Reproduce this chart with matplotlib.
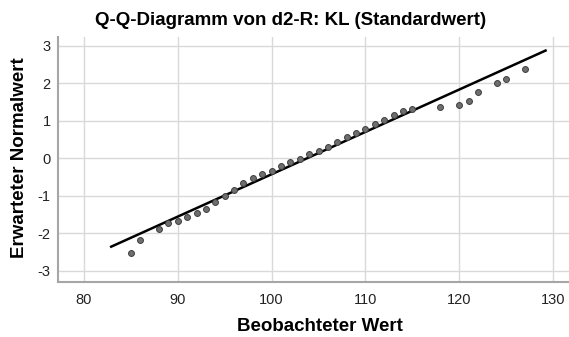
import numpy as np
import matplotlib
matplotlib.use("Agg")
import matplotlib.pyplot as plt

plt.rcParams['font.family'] = ['Liberation Sans', 'DejaVu Sans']
plt.rcParams['axes.unicode_minus'] = False

beobachtet = [85, 86, 88, 89, 90, 91, 92, 93, 94, 95, 96, 97, 98, 99, 100,
              101, 102, 103, 104, 105, 106, 107, 108, 109, 110, 111, 112,
              113, 114, 115, 118, 120, 121, 122, 124, 125, 127]
erwartet = [-2.52, -2.17, -1.89, -1.73, -1.67, -1.57, -1.45, -1.35, -1.18,
            -1.01, -0.85, -0.67, -0.52, -0.43, -0.33, -0.21, -0.11, -0.01,
            0.11, 0.20, 0.31, 0.43, 0.57, 0.67, 0.79, 0.90, 1.01, 1.16,
            1.26, 1.31, 1.36, 1.41, 1.52, 1.76, 2.01, 2.12, 2.39]

# Referenzlinie (Endpunkte)
linie_x = [82.9, 129.2]
linie_y = [-2.36, 2.87]

x_ticks = [80, 90, 100, 110, 120, 130]
y_ticks = [-3, -2, -1, 0, 1, 2, 3]

fig = plt.figure(figsize=(5.69, 3.37), dpi=100)
ax = fig.add_axes([0.1014, 0.1623, 0.8986, 0.7288])

ax.grid(True, color='#d9d9d9', linewidth=1.0, zorder=0)
ax.set_axisbelow(True)

ax.plot(linie_x, linie_y, color='black', linewidth=1.8, zorder=2)
ax.scatter(beobachtet, erwartet, s=18, facecolor='#6e6e6e',
           edgecolor='#3c3c3c', linewidth=0.7, zorder=3)

ax.set_xlim(77.2, 131.7)
ax.set_ylim(-3.31, 3.24)
ax.set_xticks(x_ticks)
ax.set_yticks(y_ticks)

for s in ['top', 'right']:
    ax.spines[s].set_visible(False)
for s in ['left', 'bottom']:
    ax.spines[s].set_color('#a6a6a6')
    ax.spines[s].set_linewidth(1.5)

ax.tick_params(length=0, labelsize=10.5, colors='#222222')
ax.tick_params(axis='x', pad=8)
ax.tick_params(axis='y', pad=5)

fig.text(0.5615, 0.030, 'Beobachteter Wert', ha='center', va='center',
         fontsize=13.5, fontweight='bold')
fig.text(0.035, 0.531, 'Erwarteter Normalwert', ha='center', va='center',
         rotation=90, fontsize=13.5, fontweight='bold')
fig.text(0.51, 0.94, 'Q-Q-Diagramm von d2-R: KL (Standardwert)',
         ha='center', va='center', fontsize=13.5, fontweight='bold')

fig.savefig('out.png', dpi=100)
